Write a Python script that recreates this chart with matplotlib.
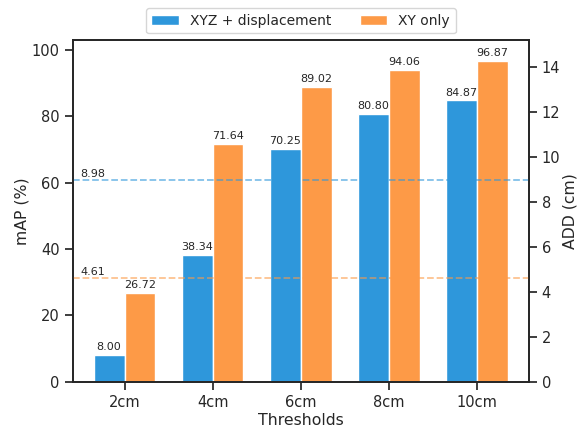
import matplotlib
matplotlib.use('Agg')
import matplotlib.pyplot as plt
import numpy as np
import seaborn as sns

sns.set_theme(style='ticks', context='notebook')
plt.rcParams['xtick.labelsize'] = 10.5
plt.rcParams['ytick.labelsize'] = 10.5
plt.rcParams['axes.labelsize'] = 11.3

# data
thresholds = ['2cm', '4cm', '6cm', '8cm', '10cm']
map_xyz = [8.00, 38.34, 70.25, 80.80, 84.87]
map_xy = [26.72, 71.64, 89.02, 94.06, 96.87]
add_xyz = 8.98
add_xy = 4.61

blue = '#2e97db'
orange = '#fd9a47'

x = np.arange(len(thresholds))
width = 0.35

fig, ax = plt.subplots(figsize=(5.84, 4.28), dpi=100)
b1 = ax.bar(x - width/2, map_xyz, width, color=blue, edgecolor='white', linewidth=1, label='XYZ + displacement')
b2 = ax.bar(x + width/2, map_xy, width, color=orange, edgecolor='white', linewidth=1, label='XY only')
ax.bar_label(b1, fmt='%.2f', fontsize=8, padding=2, color='#262626')
ax.bar_label(b2, fmt='%.2f', fontsize=8, padding=2, color='#262626')
ax.set_xticks(x)
ax.set_xticklabels(thresholds)
ax.set_xlabel('Thresholds', labelpad=2)
ax.set_ylabel('mAP (%)', labelpad=1.5)
ax.set_ylim(0, 103)

ax2 = ax.twinx()
ax2.axhline(add_xyz, color=blue, linestyle='--', alpha=0.6, linewidth=1.3)
ax2.axhline(add_xy, color=orange, linestyle='--', alpha=0.6, linewidth=1.3)
ax2.text(-0.5, add_xyz + 0.15, '%.2f' % add_xyz, fontsize=8, color='#262626')
ax2.text(-0.5, add_xy + 0.15, '%.2f' % add_xy, fontsize=8, color='#262626')
ax2.set_ylim(0, 15.2)
ax2.set_ylabel('ADD (cm)', labelpad=1.5)

ax.legend(loc='lower center', bbox_to_anchor=(0.5, 1.0), ncol=2, frameon=True, fontsize=10)

plt.subplots_adjust(left=0.125, right=0.905, top=0.906, bottom=0.108)
plt.savefig('out.png')
